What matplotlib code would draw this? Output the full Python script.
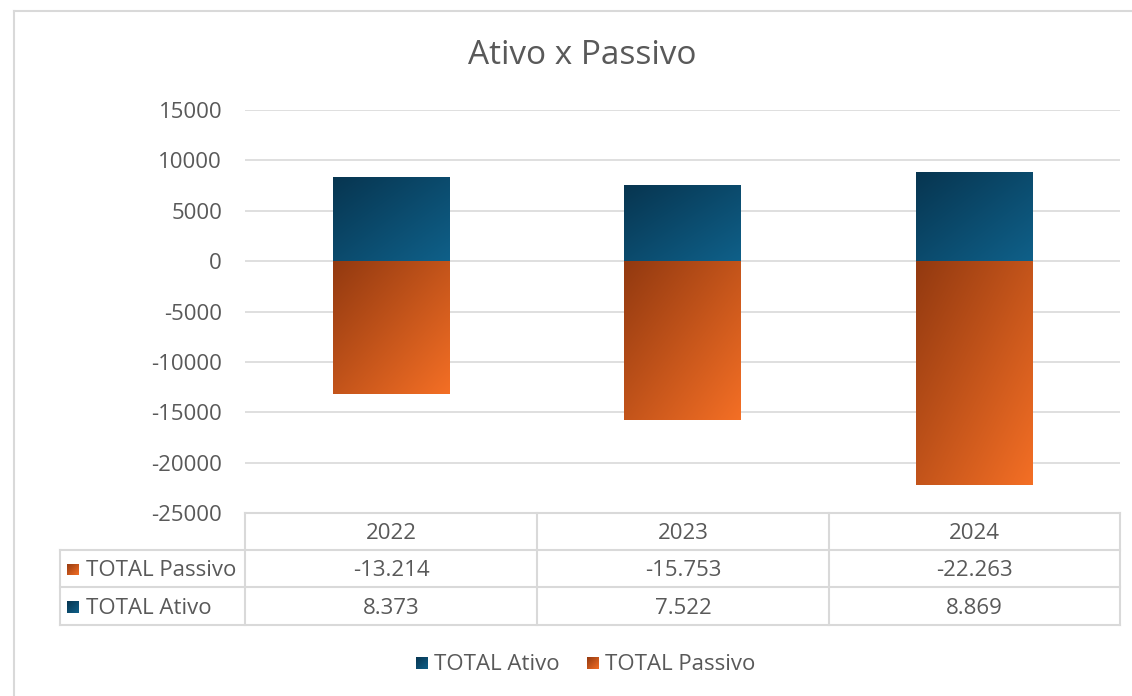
import matplotlib
matplotlib.use("Agg")
import matplotlib.pyplot as plt
import numpy as np
from matplotlib.colors import LinearSegmentedColormap
from matplotlib.lines import Line2D

years = ["2022", "2023", "2024"]
total_ativo = [8373, 7522, 8869]
total_passivo = [-13214, -15753, -22263]
series_names = ["TOTAL Ativo", "TOTAL Passivo"]
yticks = [15000, 10000, 5000, 0, -5000, -10000, -15000, -20000, -25000]
title = "Ativo x Passivo"

W, H = 1132, 696
TXT = "#595959"
GRID = "#d9d9d9"
FONT = ["Open Sans", "DejaVu Sans"]
plt.rcParams["font.family"] = FONT
FS = 16
DY = 2  # small downward text offset in px

blue_cmap = LinearSegmentedColormap.from_list("b", ["#073550", "#0f6089"])
orange_cmap = LinearSegmentedColormap.from_list("o", ["#923910", "#f46f25"])

fig = plt.figure(figsize=(W / 100, H / 100), dpi=100)
fig.patch.set_facecolor("white")

def fx(px):
    return px / W

def fy(py):
    return 1 - py / H

# axes placement in pixels
L, R, T, B = 245, 1120, 110, 513
ax = fig.add_axes([fx(L), fy(B), fx(R - L), (B - T) / H])
ax.set_ylim(-25000, 15000)
ax.set_xlim(-0.5, len(years) - 0.5)
ax.set_yticks(yticks)
ax.set_yticklabels([str(v) for v in yticks])
ax.tick_params(axis="y", length=0, pad=16.5, labelsize=FS, labelcolor=TXT)
ax.set_xticks([])
for s in ax.spines.values():
    s.set_visible(False)
ax.grid(axis="y", color=GRID, linewidth=1.2)
ax.set_axisbelow(True)

# gradient image
n = 256
u = np.linspace(0, 1, n)
grad = (u[None, :] + u[:, None]) / 2.0

x = np.arange(len(years))
bw = 0.4
bars_a = ax.bar(x, total_ativo, bw, color="none", zorder=2)
bars_p = ax.bar(x, total_passivo, bw, color="none", zorder=2)
for bars, cmap in ((bars_a, blue_cmap), (bars_p, orange_cmap)):
    for p in bars:
        x0 = p.get_x(); w = p.get_width()
        y0 = p.get_y(); h = p.get_height()
        ylo, yhi = min(y0, y0 + h), max(y0, y0 + h)
        im = ax.imshow(grad, cmap=cmap, extent=[x0, x0 + w, ylo, yhi],
                       origin="upper", aspect="auto", zorder=2, interpolation="bilinear")
        im.set_clip_path(p)
ax.set_ylim(-25000, 15000)
ax.set_xlim(-0.5, len(years) - 0.5)

# title
fig.text(fx(582), fy(56), title, ha="center", va="center", fontsize=24, color=TXT)

# figure border (left / top visible)
fig.add_artist(Line2D([fx(14), fx(14)], [fy(11), 0], color=GRID, lw=1.5, transform=fig.transFigure))
fig.add_artist(Line2D([fx(14), 1], [fy(11), fy(11)], color=GRID, lw=1.5, transform=fig.transFigure))

# data table
col_edges = [245, 537, 829, 1120]
row_edges = [513, 550, 587, 625]
lab_left = 60

def hline(x0, x1, y):
    fig.add_artist(Line2D([fx(x0), fx(x1)], [fy(y), fy(y)], color=GRID, lw=1.5, transform=fig.transFigure))

def vline(x, y0, y1):
    fig.add_artist(Line2D([fx(x), fx(x)], [fy(y0), fy(y1)], color=GRID, lw=1.5, transform=fig.transFigure))

hline(col_edges[0], col_edges[-1], row_edges[0])
for y in row_edges[1:]:
    hline(lab_left, col_edges[-1], y)
for xe in col_edges:
    vline(xe, row_edges[0], row_edges[-1])
vline(lab_left, row_edges[1], row_edges[-1])

def br_fmt(v):
    return f"{v:,}".replace(",", ".")

def grad_square(px, py, size, cmap):
    a = fig.add_axes([fx(px), fy(py + size), size / W, size / H])
    a.imshow(grad, cmap=cmap, origin="upper", aspect="auto", interpolation="bilinear")
    a.axis("off")

for i, yr in enumerate(years):
    cx = (col_edges[i] + col_edges[i + 1]) / 2
    fig.text(fx(cx), fy((row_edges[0] + row_edges[1]) / 2 + DY), yr, ha="center", va="center",
             fontsize=FS, color=TXT)
    fig.text(fx(cx), fy((row_edges[1] + row_edges[2]) / 2 + DY), br_fmt(total_passivo[i]), ha="center",
             va="center", fontsize=FS, color=TXT)
    fig.text(fx(cx), fy((row_edges[2] + row_edges[3]) / 2 + DY), br_fmt(total_ativo[i]), ha="center",
             va="center", fontsize=FS, color=TXT)

row_labels = [(series_names[1], orange_cmap), (series_names[0], blue_cmap)]
for k, (lab, cm) in enumerate(row_labels):
    cy = (row_edges[k + 1] + row_edges[k + 2]) / 2
    grad_square(67, cy - 5, 12, cm)
    fig.text(fx(86), fy(cy + DY), lab, ha="left", va="center", fontsize=FS, color=TXT)

# legend
leg_y = 662
grad_square(416, leg_y - 5, 12, blue_cmap)
fig.text(fx(434), fy(leg_y + DY), series_names[0], ha="left", va="center", fontsize=FS, color=TXT)
grad_square(587, leg_y - 5, 12, orange_cmap)
fig.text(fx(605), fy(leg_y + DY), series_names[1], ha="left", va="center", fontsize=FS, color=TXT)

fig.savefig("out.png", dpi=100, facecolor="white")
